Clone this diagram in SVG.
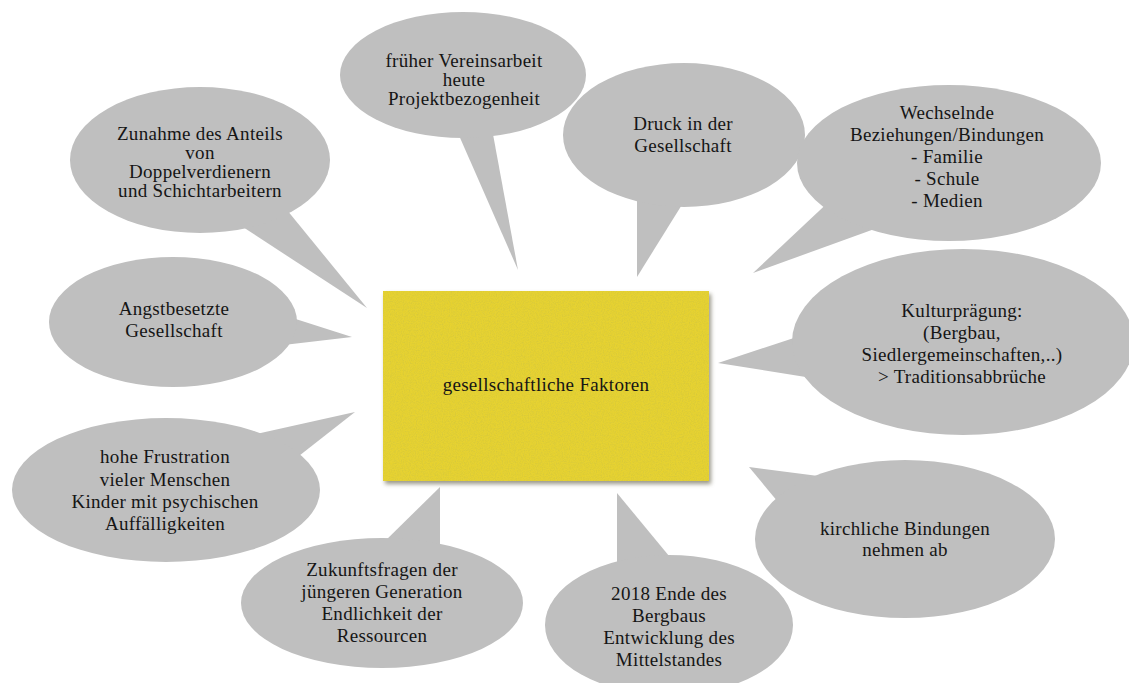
<svg xmlns="http://www.w3.org/2000/svg" width="1129" height="683" viewBox="0 0 1129 683">
<style>
.bub{fill:#bfbfbf;stroke:none}
.t{font-family:'Liberation Serif','DejaVu Serif','Noto Serif',serif;font-size:19px;letter-spacing:0.3px;fill:#151515;text-anchor:middle}
</style>
<defs>
<filter id="tex" x="0" y="0" width="1" height="1">
<feTurbulence type="fractalNoise" baseFrequency="0.85" numOctaves="2" seed="4" result="n"/>
<feColorMatrix in="n" type="matrix" values="0 0 0 0 0.62  0 0 0 0 0.55  0 0 0 0 0.05  1.3 0 0 0 -0.5" result="sp"/>
<feComposite in="sp" in2="SourceGraphic" operator="in" result="spc"/>
<feMerge><feMergeNode in="SourceGraphic"/><feMergeNode in="spc"/></feMerge>
</filter>
<filter id="sh" x="-10%" y="-10%" width="120%" height="130%">
<feGaussianBlur stdDeviation="2"/>
</filter>
</defs>
<rect width="1129" height="683" fill="#ffffff"/>

<g id="connectors">
<polygon class="bub" points="229,218 278,199 367,308"/>
<polygon class="bub" points="280,314 352,337 275,346"/>
<polygon class="bub" points="454,124 490,118 518,270"/>
<polygon class="bub" points="637,195 688,195 637,277"/>
<polygon class="bub" points="836,195 880,227 753,273"/>
<polygon class="bub" points="806,334 812,378 718,363"/>
<polygon class="bub" points="247,436 355,412 290,463"/>
<polygon class="bub" points="440,487 440,552 380,546"/>
<polygon class="bub" points="617,493 674,562 617,566"/>
<polygon class="bub" points="749,467 826,477 783,508"/>
</g>

<g id="n-frueher">
<ellipse class="bub" cx="463" cy="75" rx="123" ry="63"/>
<text class="t" x="464" y="67">früher Vereinsarbeit</text>
<text class="t" x="464" y="86">heute</text>
<text class="t" x="464" y="105">Projektbezogenheit</text>
</g>

<g id="n-druck">
<ellipse class="bub" cx="684" cy="135" rx="121" ry="72"/>
<text class="t" x="683" y="130">Druck in der</text>
<text class="t" x="683" y="152">Gesellschaft</text>
</g>

<g id="n-wechselnde">
<ellipse class="bub" cx="949" cy="163" rx="152" ry="78"/>
<text class="t" x="947" y="119">Wechselnde</text>
<text class="t" x="947" y="141">Beziehungen/Bindungen</text>
<text class="t" x="947" y="163">- Familie</text>
<text class="t" x="947" y="185">- Schule</text>
<text class="t" x="947" y="207">- Medien</text>
</g>

<g id="n-zunahme">
<ellipse class="bub" cx="200" cy="160" rx="130" ry="73"/>
<text class="t" x="200" y="140">Zunahme des Anteils</text>
<text class="t" x="200" y="159">von</text>
<text class="t" x="200" y="178">Doppelverdienern</text>
<text class="t" x="200" y="197">und Schichtarbeitern</text>
</g>

<g id="n-angst">
<ellipse class="bub" cx="173" cy="322" rx="124" ry="65"/>
<text class="t" x="174" y="315">Angstbesetzte</text>
<text class="t" x="174" y="337">Gesellschaft</text>
</g>

<g id="n-kultur">
<ellipse class="bub" cx="963" cy="342" rx="171" ry="93"/>
<text class="t" x="962" y="317">Kulturprägung:</text>
<text class="t" x="962" y="339">(Bergbau,</text>
<text class="t" x="962" y="361">Siedlergemeinschaften,..)</text>
<text class="t" x="962" y="383">&gt; Traditionsabbrüche</text>
</g>

<g id="n-frustration">
<ellipse class="bub" cx="166" cy="490" rx="154" ry="72"/>
<text class="t" x="165" y="463">hohe Frustration</text>
<text class="t" x="165" y="486">vieler Menschen</text>
<text class="t" x="165" y="508">Kinder mit psychischen</text>
<text class="t" x="165" y="530">Auffälligkeiten</text>
</g>

<g id="n-zukunft">
<ellipse class="bub" cx="382" cy="603" rx="141" ry="65"/>
<text class="t" x="382" y="576">Zukunftsfragen der</text>
<text class="t" x="382" y="598">jüngeren Generation</text>
<text class="t" x="382" y="620">Endlichkeit der</text>
<text class="t" x="382" y="642">Ressourcen</text>
</g>

<g id="n-bergbau">
<ellipse class="bub" cx="669" cy="625" rx="124" ry="70"/>
<text class="t" x="669" y="600">2018 Ende des</text>
<text class="t" x="669" y="622">Bergbaus</text>
<text class="t" x="669" y="644">Entwicklung des</text>
<text class="t" x="669" y="666">Mittelstandes</text>
</g>

<g id="n-kirche">
<ellipse class="bub" cx="905" cy="539" rx="150" ry="79"/>
<text class="t" x="905" y="535">kirchliche Bindungen</text>
<text class="t" x="905" y="556">nehmen ab</text>
</g>

<g id="n-center">
<rect x="385" y="294" width="326" height="190" fill="#6e6a55" opacity="0.7" filter="url(#sh)"/>
<rect x="383" y="291" width="326" height="190" fill="#e6d230" filter="url(#tex)"/>
<text class="t" x="546" y="391">gesellschaftliche Faktoren</text>
</g>
</svg>
